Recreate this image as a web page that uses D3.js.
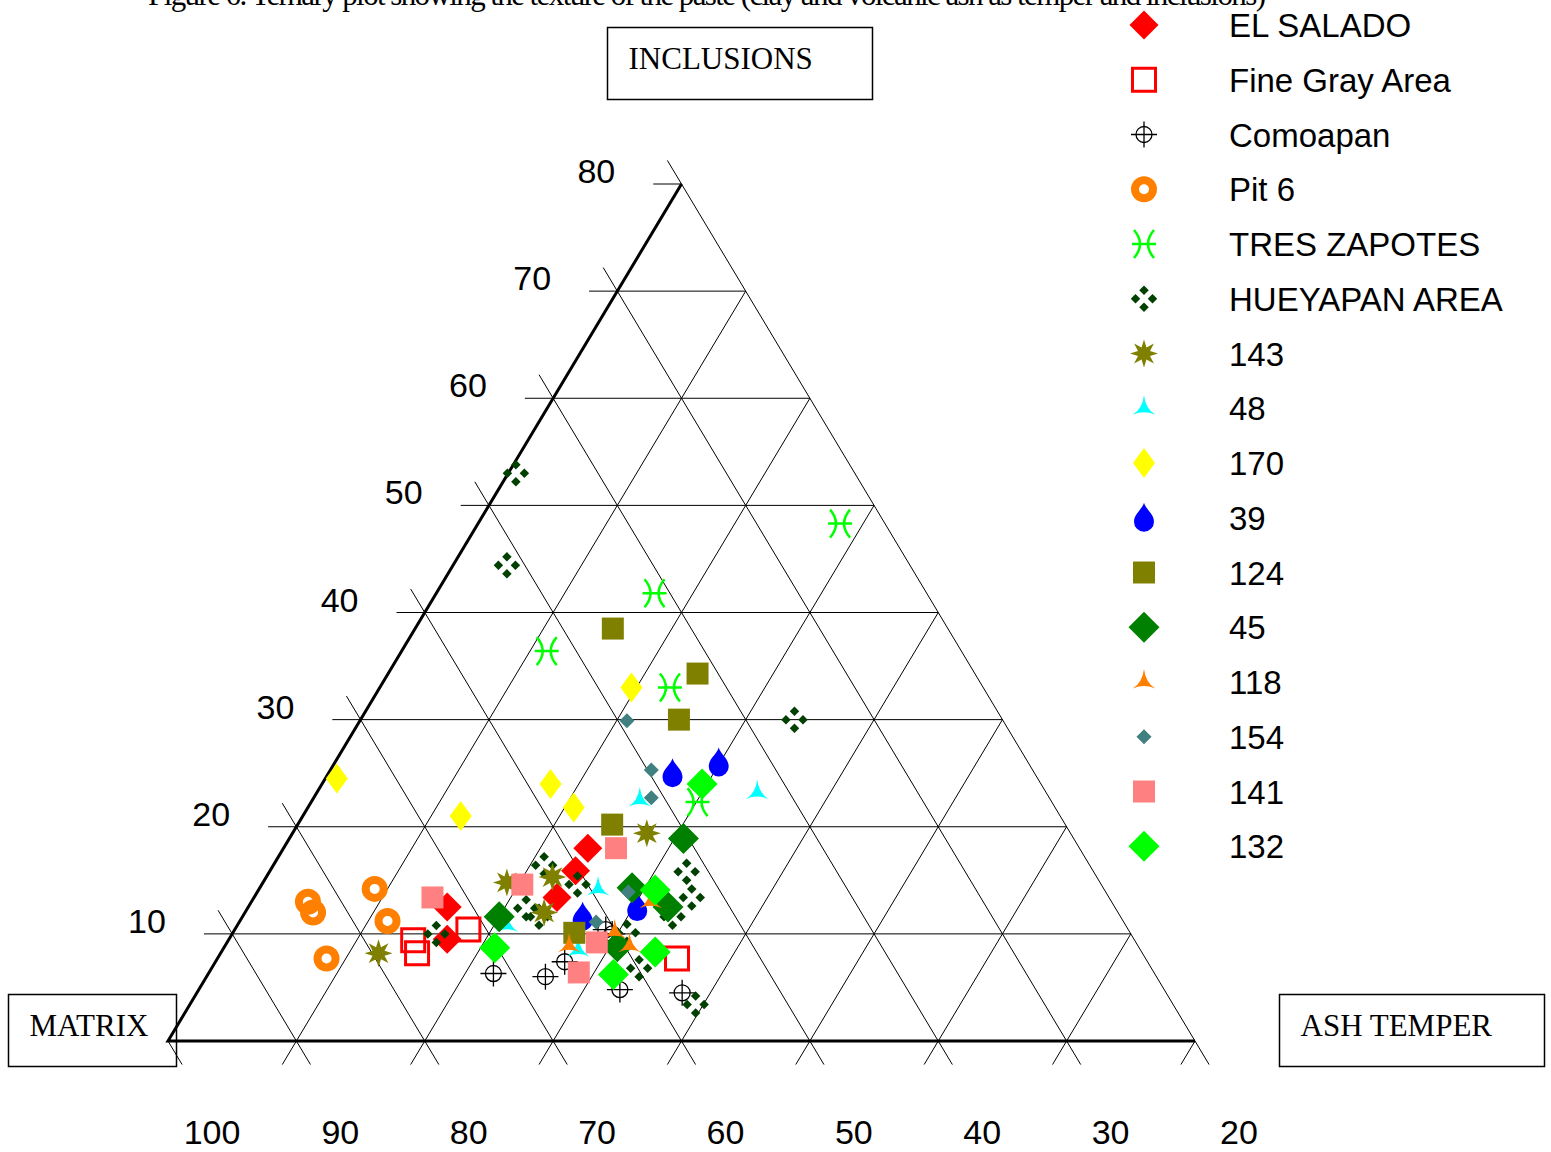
<!DOCTYPE html>
<html>
<head>
<meta charset="utf-8">
<script src="https://cdn.jsdelivr.net/npm/d3@7"></script>
<style>
  body { margin: 0; background: #fff; }
  svg { display: block; }
</style>
</head>
<body>
<svg id="chart" width="1551" height="1152"></svg>
<script>
// each point: [inclusions %, ash temper %] -- matrix is 100 - both
const elSalado = [[18.0, 23.7], [15.9, 23.8], [13.4, 23.6], [12.5, 15.5], [9.5, 17.0]];
const fineGrayArea = [[9.4, 14.4], [8.2, 15.3], [10.4, 18.2], [7.7, 35.8]];
const comoapan = [[6.3, 22.2], [6.0, 26.4], [7.4, 27.2], [10.4, 28.9], [10.0, 29.6], [4.8, 32.8], [4.5, 37.8]];
const pit6 = [[13.0, 4.4], [12.0, 5.3], [14.2, 9.0], [11.2, 11.5], [7.7, 8.5]];
const tresZapotes = [[48.3, 28.2], [41.8, 17.0], [36.4, 11.3], [33.0, 22.6], [22.3, 30.1]];
const hueyapanArea = [[53.0, 0.6], [44.4, 4.2], [30.0, 33.8], [10.0, 15.9], [16.4, 21.1], [14.6, 24.6],
  [12.4, 21.7], [11.6, 23.1], [10.1, 30.7], [6.8, 33.3], [15.8, 32.5], [13.4, 34.1], [11.6, 33.5], [3.4, 39.4]];
const s143 = [[19.4, 27.6], [8.2, 12.3], [15.3, 22.3], [12.0, 23.3], [14.8, 19.0]];
const s48 = [[22.5, 25.5], [23.2, 34.3], [14.2, 26.4], [10.8, 21.0], [8.5, 27.7]];
const s170 = [[24.5, 0.9], [21.0, 12.3], [24.0, 17.8], [21.8, 20.7], [33.0, 19.6]];
const s39 = [[25.0, 26.8], [26.0, 29.9], [12.5, 30.3], [11.6, 26.5]];
const s124 = [[38.5, 15.4], [34.3, 24.1], [30.0, 24.8], [20.2, 24.5], [10.1, 26.6]];
const s45 = [[18.9, 30.7], [11.6, 20.0], [14.3, 29.0], [12.5, 32.7], [8.8, 30.6]];
const s118 = [[8.9, 26.8], [8.9, 31.5], [13.0, 31.1], [10.2, 29.7]];
const s154 = [[29.9, 20.8], [25.3, 25.0], [22.7, 26.3], [13.9, 28.9], [11.1, 27.8]];
const s141 = [[13.4, 13.9], [14.6, 20.3], [18.0, 25.9], [9.2, 28.8], [6.4, 28.8]];
const s132 = [[24.0, 29.6], [14.1, 30.9], [8.7, 21.1], [6.2, 31.6], [8.3, 33.8]];

const seriesNames = ["EL SALADO", "Fine Gray Area", "Comoapan", "Pit 6", "TRES ZAPOTES", "HUEYAPAN AREA",
  "143", "48", "170", "39", "124", "45", "118", "154", "141", "132"];
const seriesData = [elSalado, fineGrayArea, comoapan, pit6, tresZapotes, hueyapanArea,
  s143, s48, s170, s39, s124, s45, s118, s154, s141, s132];

const inclusionTicks = [10, 20, 30, 40, 50, 60, 70, 80];
const matrixTicks = [100, 90, 80, 70, 60, 50, 40, 30, 20];

const svg = d3.select("#chart");

// ternary frame: ash runs along the base, inclusions upward
const xAsh = d3.scaleLinear().domain([0, 80]).range([168, 1195]);
const yInc = d3.scaleLinear().domain([0, 80]).range([1041, 184]);
function proj(inc, ash) { return [xAsh(ash + inc / 2), yInc(inc)]; }

// marker shapes
function diamond(w, h) { return `M0,${-h / 2}L${w / 2},0L0,${h / 2}L${-w / 2},0Z`; }
function square(s) { return `M${-s / 2},${-s / 2}h${s}v${s}h${-s}Z`; }
function star(n, ro, ri) {
  let p = "";
  for (let k = 0; k < n * 2; k++) {
    let r = k % 2 ? ri : ro;
    let ang = -Math.PI / 2 + k * Math.PI / n;
    p += (k ? "L" : "M") + (r * Math.cos(ang)).toFixed(2) + "," + (r * Math.sin(ang)).toFixed(2);
  }
  return p + "Z";
}
function tristar(r) {
  let pts = [-90, 30, 150].map(a => [r * Math.cos(a * Math.PI / 180), r * Math.sin(a * Math.PI / 180)]);
  let c = 0.12 * r;
  return `M${pts[0]}Q${c},${c * 0.3} ${pts[1]}Q0,${c} ${pts[2]}Q${-c},${c * 0.3} ${pts[0]}Z`;
}
const drop = "M0,-15C2,-8 10,-4 10,4A9.5,9.5 0 1 1 -10,4C-10,-4 -2,-8 0,-15Z";

const markers = {
  "EL SALADO": g => g.append("path").attr("d", diamond(29, 29)).attr("fill", "#ff0000"),
  "Fine Gray Area": g => g.append("path").attr("d", square(23)).attr("fill", "none")
    .attr("stroke", "#ff0000").attr("stroke-width", 3),
  "Comoapan": g => {
    g.append("circle").attr("r", 8).attr("fill", "none").attr("stroke", "#000").attr("stroke-width", 1.3);
    g.append("path").attr("d", "M-13,0H13M0,-13V13").attr("stroke", "#000").attr("stroke-width", 1.3);
  },
  "Pit 6": g => g.append("circle").attr("r", 9).attr("fill", "none")
    .attr("stroke", "#ff8000").attr("stroke-width", 8),
  "TRES ZAPOTES": g => g.append("path")
    .attr("d", "M-10,-14Q2,0 -10,14M10,-14Q-2,0 10,14M-12,0H12")
    .attr("fill", "none").attr("stroke", "#00ff00").attr("stroke-width", 2.5),
  "HUEYAPAN AREA": g => {
    [[0, -8.5], [8.5, 0], [0, 8.5], [-8.5, 0]].forEach(o => {
      g.append("path").attr("d", diamond(9.5, 9.5)).attr("transform", `translate(${o})`).attr("fill", "#004000");
    });
  },
  "143": g => g.append("path").attr("d", star(8, 14, 6.5)).attr("fill", "#808000"),
  "48": g => g.append("path").attr("d", tristar(13)).attr("fill", "#00ffff"),
  "170": g => g.append("path").attr("d", diamond(22, 30)).attr("fill", "#ffff00"),
  "39": g => g.append("path").attr("d", drop).attr("fill", "#0000ff"),
  "124": g => g.append("path").attr("d", square(22)).attr("fill", "#808000"),
  "45": g => g.append("path").attr("d", diamond(31, 31)).attr("fill", "#008000"),
  "118": g => g.append("path").attr("d", tristar(13)).attr("fill", "#ff8000"),
  "154": g => g.append("path").attr("d", diamond(15, 15)).attr("fill", "#408080"),
  "141": g => g.append("path").attr("d", square(22)).attr("fill", "#ff8080"),
  "132": g => g.append("path").attr("d", diamond(31, 31)).attr("fill", "#00ff00")
};

// clipped caption at the very top
svg.append("text")
  .attr("x", 148).attr("y", 5)
  .attr("textLength", 1118)
  .style("font-family", "'Liberation Serif', 'Times New Roman', serif")
  .style("font-size", "31px")
  .text("Figure 6. Ternary plot showing the texture of the paste (clay and volcanic ash as temper and inclusions)");

// grid
const ext = 2.2;
let gridLines = [];
inclusionTicks.forEach(k => {
  gridLines.push([proj(k, -ext), proj(k, 80 - k)]);          // constant inclusions
});
d3.range(10, 81, 10).forEach(s => {
  gridLines.push([proj(-ext, s + ext), proj(s + ext, -ext)]); // constant matrix
  gridLines.push([proj(-ext, s), proj(80 - s, s)]);           // constant ash temper
});
gridLines.push([proj(-ext, ext), proj(0, 0)]);

const line = d3.line();
let grid = svg.append("g");
grid.selectAll("path").data(gridLines).enter().append("path")
  .attr("d", d => line(d))
  .attr("fill", "none")
  .attr("stroke", "#000")
  .attr("stroke-width", 1);

// bold left and bottom sides
svg.append("path")
  .attr("d", line([proj(80, 0), proj(0, 0), proj(0, 80)]))
  .attr("fill", "none").attr("stroke", "#000").attr("stroke-width", 3)
  .attr("stroke-linejoin", "miter");

// tick labels
const labelFont = "'Liberation Sans', Arial, sans-serif";
svg.append("g").selectAll("text").data(inclusionTicks).enter().append("text")
  .attr("x", d => proj(d, -ext)[0] - 38)
  .attr("y", d => proj(d, -ext)[1] - 1)
  .attr("text-anchor", "end")
  .style("font-family", labelFont).style("font-size", "34px")
  .text(d => d);

svg.append("g").selectAll("text").data(matrixTicks).enter().append("text")
  .attr("x", d => xAsh(100 - d) + 44)
  .attr("y", 1144)
  .attr("text-anchor", "middle")
  .style("font-family", labelFont).style("font-size", "34px")
  .text(d => d);

// corner boxes
const serif = "'Liberation Serif', 'Times New Roman', serif";
[["INCLUSIONS", 607.5, 27.5, 265], ["MATRIX", 8.5, 994.5, 168], ["ASH TEMPER", 1279.5, 994.5, 265]].forEach(b => {
  svg.append("rect").attr("x", b[1]).attr("y", b[2]).attr("width", b[3]).attr("height", 72)
    .attr("fill", "none").attr("stroke", "#000").attr("stroke-width", 1.5);
  svg.append("text").attr("x", b[1] + 21).attr("y", b[2] + 41)
    .style("font-family", serif).style("font-size", "31px")
    .text(b[0]);
});

// points
seriesNames.forEach((name, i) => {
  let g = svg.append("g");
  g.selectAll("g").data(seriesData[i]).enter().append("g")
    .attr("transform", d => `translate(${proj(d[0], d[1])})`)
    .each(function () { markers[name](d3.select(this)); });
});

// legend
let legend = svg.append("g");
seriesNames.forEach((name, i) => {
  let y = 25 + i * 54.75;
  markers[name](legend.append("g").attr("transform", `translate(1144,${y})`));
  legend.append("text")
    .attr("x", 1229).attr("y", y + 12)
    .style("font-family", labelFont).style("font-size", "33px")
    .text(name);
});
</script>
</body>
</html>
